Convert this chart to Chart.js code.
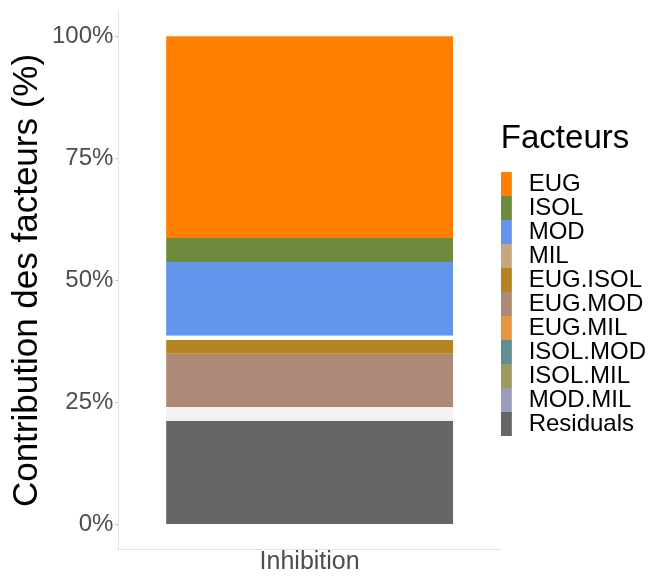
<!DOCTYPE html>
<html>
<head>
<meta charset="utf-8">
<script src="https://cdn.jsdelivr.net/npm/chart.js@4/dist/chart.umd.min.js"></script>
<style>
  body { margin: 0; background: #fff; }
  #wrap { width: 662px; height: 576px; }
</style>
</head>
<body>
<div id="wrap"><canvas id="chart" width="662" height="576"></canvas></div>
<script>
// data (percent of total)
var categories = ['Inhibition'];
var factors = ['EUG', 'ISOL', 'MOD', 'MIL', 'EUG.ISOL', 'EUG.MOD', 'EUG.MIL',
  'ISOL.MOD', 'ISOL.MIL', 'MOD.MIL', 'Residuals'];
var contributions = [41.3, 4.9, 15.1, 0.9, 2.8, 10.9, 0.7, 0.7, 0.7, 0.8, 21.2];
var yTicks = [0, 25, 50, 75, 100];

// legend colours and the colours the bar pieces appear with
var legendColors = ['#ff7f00', '#6e8b3d', '#6495ed', '#c9a77c', '#b58420', '#ad8a77',
  '#e9953f', '#5f8f8f', '#9c9a5c', '#9a9eb8', '#666666'];
var barColors = ['#ff7f00', '#6e8b3d', '#6495ed', '#ffffff', '#b58420', '#ad8a77',
  '#f1f3f3', '#f1f3f3', '#f1f3f3', '#f1f3f3', '#666666'];

var font = 'Liberation Sans, Arial, sans-serif';

// ggplot stacks the first level at the top, so build bottom-up
var datasets = [];
for (var i = factors.length - 1; i >= 0; i--) {
  datasets.push({
    label: factors[i],
    data: [contributions[i]],
    backgroundColor: barColors[i],
    legendColor: legendColors[i],
    borderWidth: 0,
    barPercentage: 0.75,
    categoryPercentage: 1
  });
}

new Chart(document.getElementById('chart').getContext('2d'), {
  type: 'bar',
  data: { labels: categories, datasets: datasets },
  options: {
    responsive: false,
    animation: false,
    layout: { padding: { top: 0, right: 6, bottom: 0, left: 6 } },
    plugins: {
      tooltip: { enabled: false },
      legend: {
        position: 'right',
        align: 'start',
        reverse: true,
        title: {
          display: true,
          text: 'Facteurs',
          position: 'start',
          color: '#000',
          font: { family: font, size: 33, lineHeight: 1 },
          padding: { top: 122, bottom: 17 }
        },
        labels: {
          color: '#000',
          font: { family: font, size: 24, lineHeight: 1 },
          boxWidth: 11,
          boxHeight: 24,
          padding: 0,
          generateLabels: function (chart) {
            return chart.data.datasets.map(function (ds, idx) {
              return {
                text: '\u2009' + ds.label,
                fillStyle: ds.legendColor,
                strokeStyle: ds.legendColor,
                lineWidth: 0,
                datasetIndex: idx,
                hidden: false
              };
            });
          }
        }
      }
    },
    scales: {
      x: {
        stacked: true,
        grid: { display: false, drawTicks: false },
        border: { display: true, color: '#e3e3e3' },
        ticks: { color: '#4d4d4d', font: { family: font, size: 25, lineHeight: 1 }, padding: 1 }
      },
      y: {
        stacked: true,
        min: -5,
        max: 105,
        afterBuildTicks: function (axis) {
          axis.ticks = yTicks.map(function (v) { return { value: v }; });
        },
        grid: { drawOnChartArea: false, drawTicks: true, tickLength: 3, color: '#bdbdbd' },
        border: { display: true, color: '#e3e3e3' },
        ticks: {
          color: '#4d4d4d',
          font: { family: font, size: 24, lineHeight: 0.83 },
          padding: 2,
          callback: function (v) { return v + '%'; }
        },
        title: {
          display: true,
          text: 'Contribution des facteurs (%)',
          color: '#000',
          font: { family: font, size: 35 },
          padding: { top: 0, bottom: 2 }
        }
      }
    }
  }
});
</script>
</body>
</html>
